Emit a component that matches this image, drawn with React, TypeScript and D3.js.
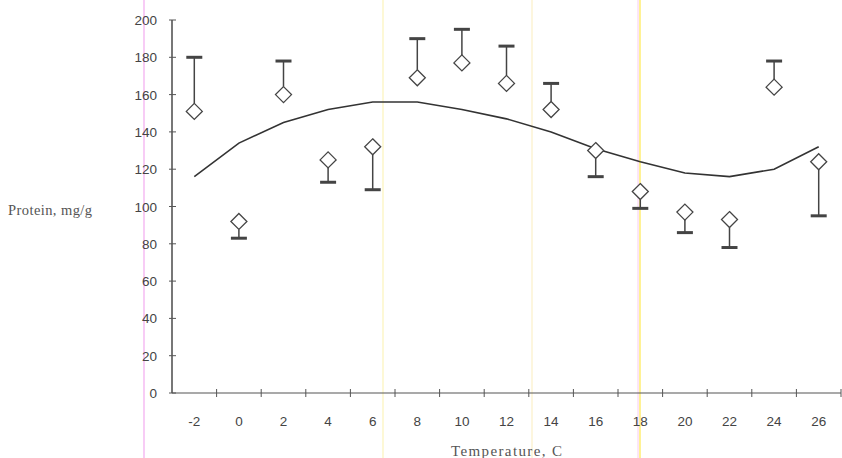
import React, { useRef, useEffect } from 'react';
import { select, scaleBand, scaleLinear, line, range } from 'd3';

const temps = [-2, 0, 2, 4, 6, 8, 10, 12, 14, 16, 18, 20, 22, 24, 26];
const protein = [151, 92, 160, 125, 132, 169, 177, 166, 152, 130, 108, 97, 93, 164, 124];
const errEnd = [180, 83, 178, 113, 109, 190, 195, 186, 166, 116, 99, 86, 78, 178, 95];
const trend = [116, 134, 145, 152, 156, 156, 152, 147, 140, 131, 124, 118, 116, 120, 132];
const yTicks = [0, 20, 40, 60, 80, 100, 120, 140, 160, 180, 200];

const W = 842, H = 458;

function App() {
  const svgRef = useRef<SVGSVGElement>(null);

  useEffect(() => {
    const svg = select(svgRef.current);
    svg.selectAll('*').remove();

    const x = scaleBand<number>().domain(temps).range([172, 841]).padding(0);
    const y = scaleLinear().domain([0, 200]).range([393, 20]);
    const cx = (t: number) => (x(t) as number) + x.bandwidth() / 2;

    // scan artefacts (faint coloured streaks)
    const streaks = [
      { at: 144, c: '#f3a8f0', o: 0.9 },
      { at: 383, c: '#fbf3b0', o: 0.8 },
      { at: 532, c: '#fbefc0', o: 0.8 },
      { at: 638, c: '#f8c8f0', o: 0.7 },
      { at: 640, c: '#ffe94a', o: 0.9 },
    ];
    svg.selectAll('.streak').data(streaks).join('line')
      .attr('x1', d => d.at).attr('x2', d => d.at).attr('y1', 0).attr('y2', H)
      .attr('stroke', d => d.c).attr('stroke-opacity', d => d.o).attr('stroke-width', 1.3);

    const axisColor = '#555';

    // y axis
    svg.append('line').attr('x1', 172).attr('x2', 172).attr('y1', y(200)).attr('y2', y(0))
      .attr('stroke', axisColor).attr('stroke-width', 1.6);
    svg.selectAll('.ytick').data(yTicks).join('line')
      .attr('x1', 169).attr('x2', 176).attr('y1', d => y(d)).attr('y2', d => y(d))
      .attr('stroke', axisColor);
    svg.selectAll('.ylab').data(yTicks).join('text')
      .attr('x', 157).attr('y', d => y(d) + 5)
      .attr('text-anchor', 'end').attr('font-family', 'Liberation Sans, Arial, sans-serif')
      .attr('font-size', 13.5).attr('fill', '#444').text(d => d);

    // x axis
    svg.append('line').attr('x1', 172).attr('x2', 841).attr('y1', y(0)).attr('y2', y(0))
      .attr('stroke', axisColor).attr('stroke-width', 1.2);
    const bounds = range(1, temps.length + 1).map(i => 172 + i * x.bandwidth());
    svg.selectAll('.xtick').data(bounds).join('line')
      .attr('x1', d => d).attr('x2', d => d).attr('y1', y(0) - 4).attr('y2', y(0) + 4)
      .attr('stroke', axisColor);
    svg.selectAll('.xlab').data(temps).join('text')
      .attr('x', d => cx(d)).attr('y', 426)
      .attr('text-anchor', 'middle').attr('font-family', 'Liberation Sans, Arial, sans-serif')
      .attr('font-size', 13.5).attr('fill', '#444').text(d => d);

    // titles
    svg.append('text').attr('x', 8).attr('y', 215)
      .attr('font-family', 'Liberation Serif, Times New Roman, serif')
      .attr('font-size', 14.5).attr('textLength', 84).attr('fill', '#555').text('Protein, mg/g');
    svg.append('text').attr('x', 451).attr('y', 456)
      .attr('font-family', 'Liberation Serif, Times New Roman, serif')
      .attr('font-size', 15).attr('textLength', 111).attr('fill', '#555').text('Temperature, C');

    // trend line
    const trendLine = line<number>().x((d, i) => cx(temps[i])).y(d => y(d));
    svg.append('path').attr('d', trendLine(trend)).attr('fill', 'none')
      .attr('stroke', '#333').attr('stroke-width', 1.6);

    // error bars
    const r = 8;
    const pts = temps.map((t, i) => ({ t, v: protein[i], e: errEnd[i] }));
    svg.selectAll('.err').data(pts).join('line')
      .attr('x1', d => cx(d.t)).attr('x2', d => cx(d.t))
      .attr('y1', d => y(d.v) + (d.e > d.v ? -r : r)).attr('y2', d => y(d.e))
      .attr('stroke', '#444').attr('stroke-width', 1.5);
    svg.selectAll('.cap').data(pts).join('line')
      .attr('x1', d => cx(d.t) - 8).attr('x2', d => cx(d.t) + 8)
      .attr('y1', d => y(d.e)).attr('y2', d => y(d.e))
      .attr('stroke', '#444').attr('stroke-width', 3);

    // diamonds
    svg.selectAll('.pt').data(pts).join('path')
      .attr('d', d => {
        const px = cx(d.t), py = y(d.v);
        return `M${px},${py - r}L${px + r},${py}L${px},${py + r}L${px - r},${py}Z`;
      })
      .attr('fill', '#fff').attr('stroke', '#444').attr('stroke-width', 1.3);
  }, []);

  return (
    <svg ref={svgRef} width={W} height={H}
      style={{ position: 'absolute', left: 0, top: 0, background: '#fff' }} />
  );
}

export default App;
